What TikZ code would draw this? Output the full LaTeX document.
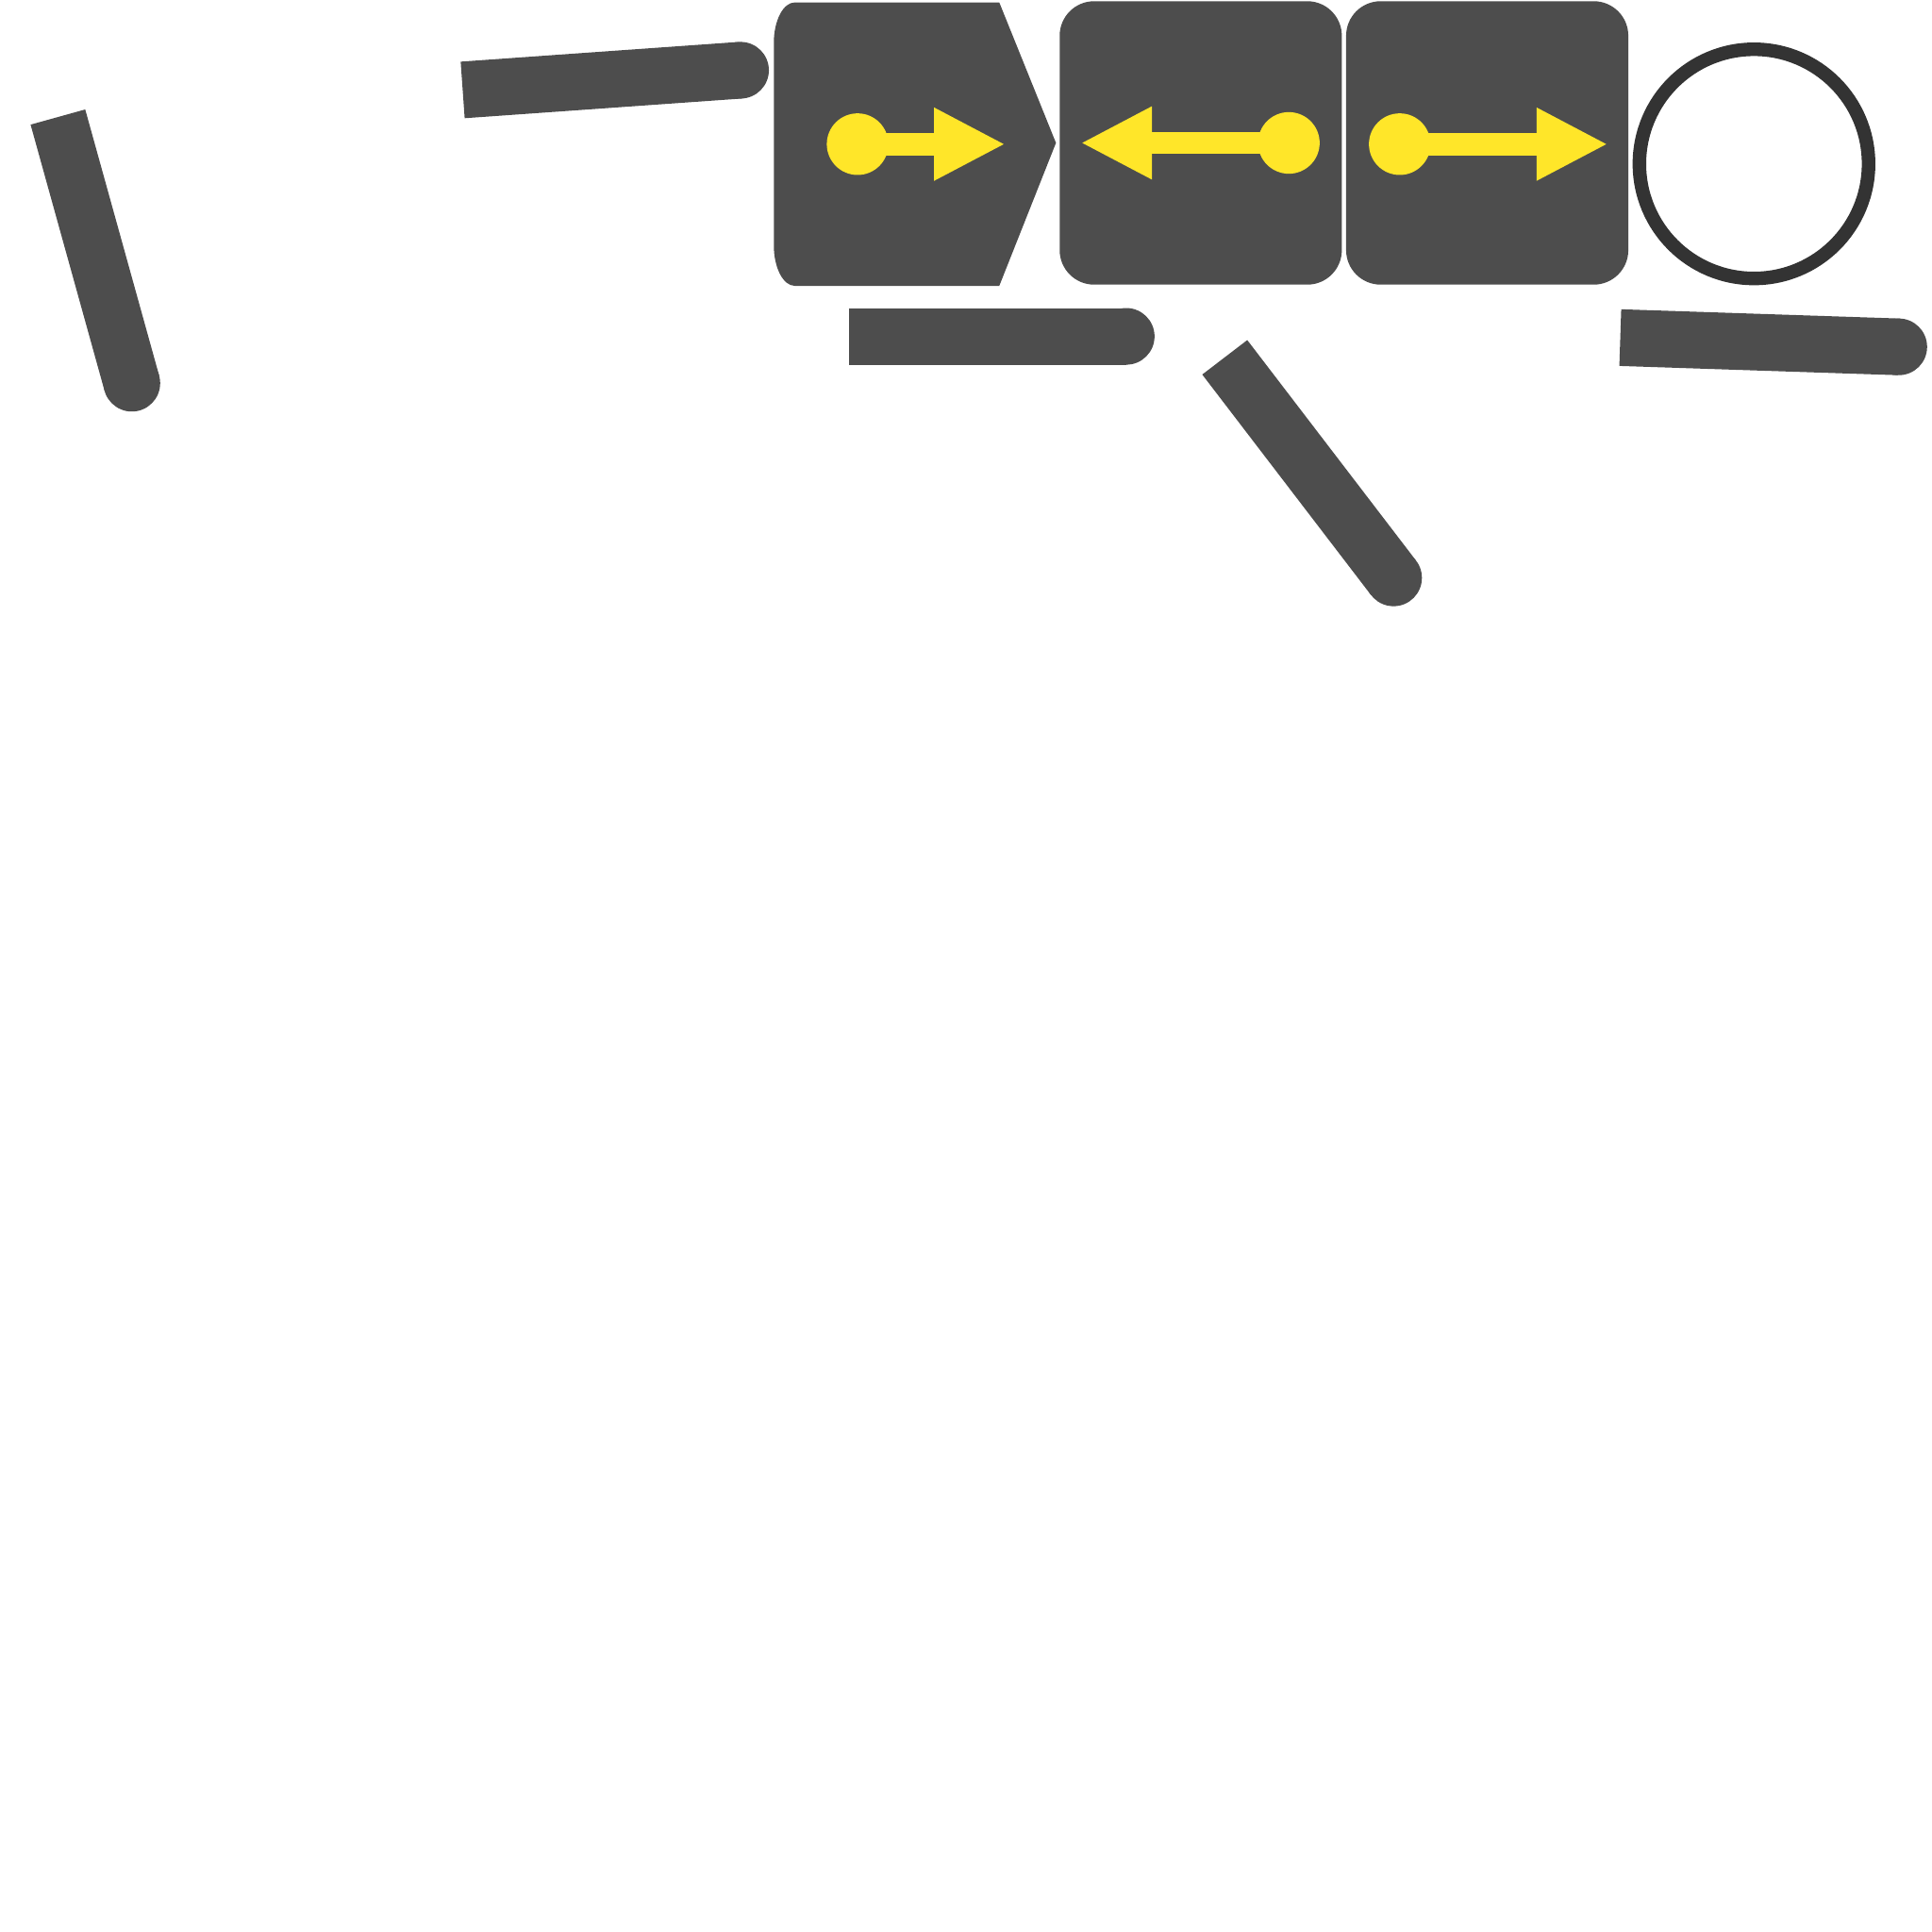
\documentclass[tikz,border=0pt]{standalone}
\usepackage{tikz}
\usetikzlibrary{shapes, arrows.meta, positioning}
\definecolor{darkgrey}{HTML}{4D4D4D}
\definecolor{ringgrey}{HTML}{333333}
\definecolor{signyellow}{HTML}{FFE629}
\tikzstyle{bar} = [draw=darkgrey, line width=0.46cm, line cap=butt]
\tikzstyle{barend} = [circle, fill=darkgrey, inner sep=0pt, minimum size=0.46cm]
\tikzstyle{panel} = [rectangle, rounded corners=0.28cm, fill=darkgrey, inner sep=0pt, minimum width=2.29cm, minimum height=2.3cm]
\tikzstyle{knob} = [circle, fill=signyellow, inner sep=0pt, minimum size=0.5cm]
\tikzstyle{pointer} = [draw=signyellow, line width=0.18cm, -{Triangle[length=0.58cm, width=0.55cm]}]
\tikzstyle{ring} = [circle, draw=ringgrey, line width=0.11cm, inner sep=0pt, minimum size=1.86cm]

\begin{document}
\begin{tikzpicture}
			\useasboundingbox (0,0) rectangle (15.68,-15.68);
			
			% loose bars
			\coordinate (a1) at (0.47,-0.95);  \coordinate (a2) at (1.07,-3.11);
			\coordinate (b1) at (3.755,-0.73); \coordinate (b2) at (6.01,-0.57);
			\coordinate (c1) at (6.89,-2.73);  \coordinate (c2) at (9.14,-2.73);
			\coordinate (d1) at (9.94,-2.90);  \coordinate (d2) at (11.31,-4.69);
			\coordinate (e1) at (13.15,-2.74); \coordinate (e2) at (15.41,-2.815);
			\foreach \s/\e in {a1/a2, b1/b2, c1/c2, d1/d2, e1/e2} {
				\path [bar] (\s) -- (\e);
				\node [barend] at (\e) {};
			}
			
			% first panel, pointed on the right
			\fill [darkgrey] (6.45,-0.02) -- (8.11,-0.02) -- (8.57,-1.16) -- (8.11,-2.32) -- (6.45,-2.32)
				arc [start angle=270, end angle=180, x radius=0.17, y radius=0.33] -- (6.28,-0.35)
				arc [start angle=180, end angle=90, x radius=0.17, y radius=0.33] -- cycle;
			\node [panel] (p2) at (9.745,-1.16) {};
			\node [panel] (p3) at (12.07,-1.16) {};
			\node [ring] (ring) at (14.235,-1.33) {};
			
			% yellow pointers
			\node [knob] (k1) at (6.96,-1.17) {};
			\node [knob] (k2) at (10.46,-1.16) {};
			\node [knob] (k3) at (11.36,-1.17) {};
			\coordinate (t1) at (8.16,-1.17);
			\coordinate (t2) at (8.77,-1.16);
			\coordinate (t3) at (13.05,-1.17);
			
			\path [pointer] (k1.center) -- (t1);
			\path [pointer] (k2.center) -- (t2);
			\path [pointer] (k3.center) -- (t3);
		\end{tikzpicture}
\end{document}
